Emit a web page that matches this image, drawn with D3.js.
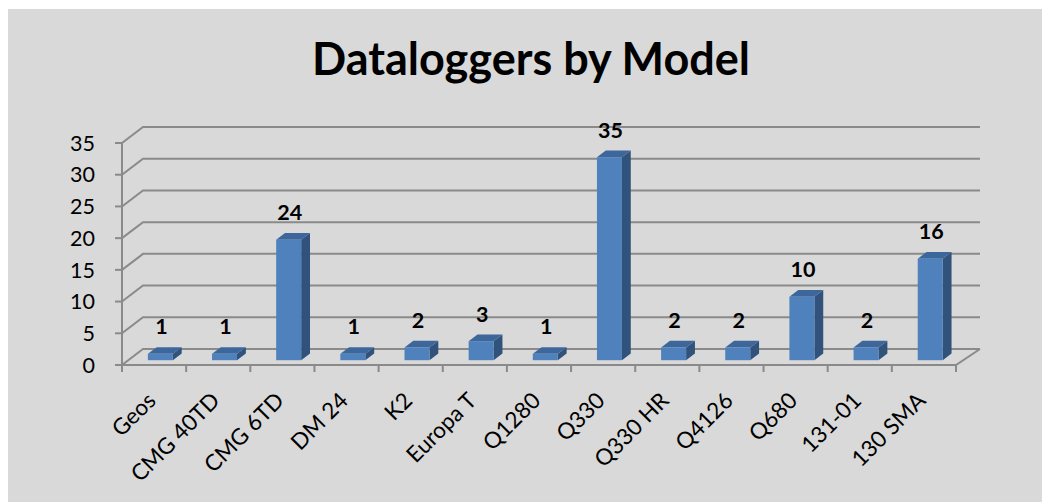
<!DOCTYPE html>
<html>
<head>
<meta charset="utf-8">
<script src="https://cdn.jsdelivr.net/npm/d3@7"></script>
<style>
  body { margin: 0; background: #fff; }
  svg { display: block; font-family: Lato, "Open Sans", sans-serif; }
</style>
</head>
<body>
<script>
// chart data
const categories = ["Geos", "CMG 40TD", "CMG 6TD", "DM 24", "K2", "Europa T", "Q1280",
                    "Q330", "Q330 HR", "Q4126", "Q680", "131-01", "130 SMA"];
// bar heights as drawn
const counts = [1, 1, 19, 1, 2, 3, 1, 32, 2, 2, 10, 2, 16];
// data label text shown above bars
const dataLabels = ["1", "1", "24", "1", "2", "3", "1", "35", "2", "2", "10", "2", "16"];
const yTicks = [0, 5, 10, 15, 20, 25, 30, 35];

const W = 1042, H = 502;
const depthX = 21, depthY = -16;   // back wall offset
const barF = 0.3, barB = 0.72;     // bar front/back depth fraction
const barW = 25;
const gridColor = "#8a8a8a";

const svg = d3.select("body").append("svg").attr("width", W).attr("height", H);

svg.append("rect").attr("x", 8).attr("y", 9).attr("width", W - 8).attr("height", H - 9)
   .attr("fill", "#d9d9d9");

svg.append("text").attr("x", 531).attr("y", 75).attr("text-anchor", "middle")
   .attr("font-size", 45).attr("font-weight", "bold").attr("fill", "#000")
   .text("Dataloggers by Model");

const x = d3.scaleBand().domain(categories).range([122, 956]);
const y = d3.scaleLinear().domain([0, 35]).range([365, 143]);

// back wall gridlines with left wall diagonals
const grid = svg.append("g").attr("stroke", gridColor).attr("stroke-width", 2).attr("fill", "none");
yTicks.forEach(v => {
  grid.append("path")
      .attr("d", `M122,${y(v)} L${122 + depthX},${y(v) + depthY} L980,${y(v) + depthY}`);
});
// floor
grid.append("path").attr("d", `M122,${y(0)} L${x.range()[1]},${y(0)} L980,${y(0) + depthY}`);

// y axis
const yAxis = svg.append("g");
yAxis.append("line").attr("x1", 122).attr("x2", 122).attr("y1", y(35)).attr("y2", y(0))
     .attr("stroke", gridColor).attr("stroke-width", 2);
yTicks.forEach(v => {
  yAxis.append("line").attr("x1", 115).attr("x2", 122).attr("y1", y(v)).attr("y2", y(v))
       .attr("stroke", gridColor).attr("stroke-width", 2);
  yAxis.append("text").attr("x", 95).attr("y", y(v)).attr("dy", "0.36em")
       .attr("text-anchor", "end").attr("font-size", 21.5).attr("fill", "#000").text(v);
});

// x axis ticks
const xTickPos = categories.map(c => x(c)).concat([x.range()[1]]);
xTickPos.forEach(p => {
  svg.append("line").attr("x1", p).attr("x2", p).attr("y1", y(0)).attr("y2", y(0) + 7)
     .attr("stroke", gridColor).attr("stroke-width", 2);
});

// bars
const bars = svg.append("g");
categories.forEach((c, i) => {
  const cx = x(c) + x.bandwidth() / 2 + depthX * barF;
  const x0 = cx - barW / 2, x1 = cx + barW / 2;
  const yb = y(0) + depthY * barF;
  const yt = y(counts[i]) + depthY * barF;
  const ddx = depthX * (barB - barF), ddy = depthY * (barB - barF);
  // side
  bars.append("path")
      .attr("d", `M${x1},${yt} L${x1 + ddx},${yt + ddy} L${x1 + ddx},${yb + ddy} L${x1},${yb} Z`)
      .attr("fill", "#30527b");
  // top
  bars.append("path")
      .attr("d", `M${x0},${yt} L${x0 + ddx},${yt + ddy} L${x1 + ddx},${yt + ddy} L${x1},${yt} Z`)
      .attr("fill", "#3d679b");
  // front
  bars.append("rect").attr("x", x0).attr("y", yt).attr("width", barW).attr("height", yb - yt)
      .attr("fill", "#4f81bd");
  // data label
  bars.append("text").attr("x", cx + 1).attr("y", yt - 19.5).attr("text-anchor", "middle")
      .attr("font-size", 21.5).attr("font-weight", "bold").attr("fill", "#000")
      .text(dataLabels[i]);
});

// category labels
categories.forEach(c => {
  const px = x(c) + x.bandwidth() / 2 + 3, py = 402;
  svg.append("text").attr("transform", `translate(${px},${py}) rotate(-45)`)
     .attr("text-anchor", "end").attr("font-size", 22.5).attr("fill", "#000").text(c);
});
</script>
</body>
</html>
